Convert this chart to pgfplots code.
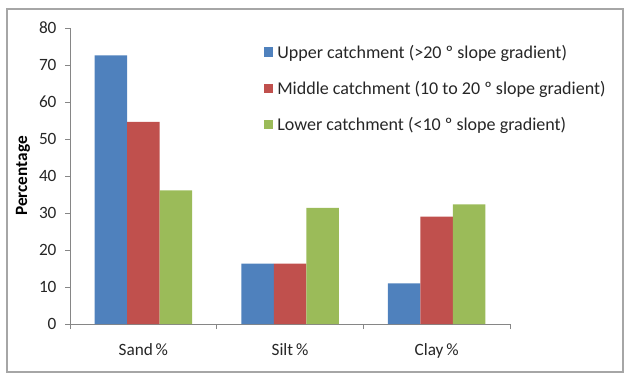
\documentclass[border=0pt]{standalone}
\usepackage{pgfplots}
\pgfplotsset{compat=1.18}
\usepackage{fontspec}
\setmainfont{Carlito}

\definecolor{upperc}{HTML}{4F81BD}
\definecolor{middlec}{HTML}{C0504D}
\definecolor{lowerc}{HTML}{9BBB59}
\definecolor{axisgray}{HTML}{868686}
\definecolor{framegray}{HTML}{A6A6A6}

\newcommand{\chartfont}{\fontsize{17.3}{20}\selectfont}
\newcommand{\legendfont}{\fontsize{18.1}{20}\selectfont}

\begin{document}
\begin{tikzpicture}[x=1bp,y=1bp]
  \path[use as bounding box] (0,0) rectangle (629,375);
  % chart area frame
  \draw[framegray, line width=1.4bp] (7,3) rectangle (623,366);
  \begin{axis}[
    at={(70bp,51bp)}, anchor=south west,
    scale only axis,
    width=440bp, height=296bp,
    ybar=0pt, bar width=32.5bp,
    xmin=-0.5, xmax=2.5,
    ymin=0, ymax=80,
    ytick={0,10,...,80},
    xtick={0,1,2},
    xticklabels={Sand\,\%, Silt\,\%, Clay\,\%},
    minor xtick={-0.5,0.5,1.5,2.5},
    major x tick style={draw=none},
    tick align=outside,
    major tick length=5bp, minor tick length=5bp,
    tick style={axisgray, line width=0.8bp},
    axis x line*=bottom, axis y line*=left,
    axis line style={axisgray, line width=0.8bp},
    /pgf/number format/assume math mode=true,
    tick label style={font=\chartfont, text=black!85},
    yticklabel style={xshift=-5bp},
    xticklabel style={yshift=-11bp},
    ylabel={\textbf{Percentage}},
    ylabel style={font=\chartfont, at={(axis description cs:-0.107,0.5)}, anchor=center},
    legend style={at={(0.440,0.95)}, anchor=north west, draw=none, fill=none,
      font=\legendfont, text=black!85,
      row sep=17.5bp, inner sep=0pt,
      nodes={inner xsep=4bp}},
    legend cell align=left,
    legend image code/.code={\fill[#1] (0bp,-4.5bp) rectangle (9.5bp,5bp);},
  ]
    \addplot[fill=upperc, draw=none] coordinates {(0,72.6) (1,16.3) (2,11.0)};
    \addplot[fill=middlec, draw=none] coordinates {(0,54.6) (1,16.3) (2,29.0)};
    \addplot[fill=lowerc, draw=none] coordinates {(0,36.1) (1,31.4) (2,32.3)};
    \legend{Upper catchment (>20 º slope gradient),
            Middle catchment (10 to 20 º slope gradient),
            Lower catchment (<10 º slope gradient)}
  \end{axis}
\end{tikzpicture}
\end{document}
